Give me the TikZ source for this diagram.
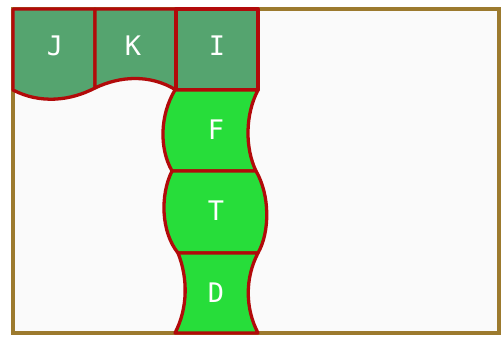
\documentclass[tikz,border=0pt]{standalone}
\usepackage{fontspec}
\setmainfont{DejaVu Sans}
\setmonofont{DejaVu Sans Mono}
\usepackage{xcolor}
\usetikzlibrary{positioning}
\definecolor{FrameBrown}{HTML}{9C7A2E}
\definecolor{PaperWhite}{HTML}{FAFAFA}
\definecolor{DarkCell}{HTML}{55A46F}
\definecolor{BrightCell}{HTML}{27DD3A}
\definecolor{CellRed}{HTML}{B20A0A}
\tikzset{
  frame/.style={draw=FrameBrown, line width=2.8pt, fill=PaperWhite},
  topcell/.style={draw=CellRed, line width=2.8pt, fill=DarkCell, line join=round},
  colcell/.style={draw=CellRed, line width=2.8pt, fill=BrightCell, line join=round},
  letter/.style={text=white, font=\ttfamily\fontsize{23}{26}\selectfont, inner sep=0pt},
}
\begin{document}
\begin{tikzpicture}[x=0.03cm, y=-0.03cm]
  \useasboundingbox (0,0) rectangle (502,340);

  % Outer frame
  \draw[frame] (13,9) rectangle (499,333);

  % Top row
  \draw[topcell] (13,9) -- (95,9) -- (95,88)
    .. controls (70,101) and (40,104) .. (13,90) -- cycle;
  \draw[topcell] (95,9) -- (176,9) -- (176,90)
    .. controls (150,74) and (120,76) .. (95,88) -- cycle;
  \draw[topcell] (176,9) rectangle (258,90);

  % Column below I
  \draw[colcell] (175,90) -- (258,90)
    .. controls (245,115) and (245,148) .. (256,171) -- (172,171)
    .. controls (159,148) and (160,115) .. (175,90) -- cycle;
  \draw[colcell] (172,171) -- (256,171)
    .. controls (270,195) and (270,232) .. (258,253) -- (178,253)
    .. controls (161,232) and (160,195) .. (172,171) -- cycle;
  \draw[colcell] (178,253) -- (258,253)
    .. controls (245,278) and (245,308) .. (258,333) -- (175,333)
    .. controls (188,308) and (188,278) .. (178,253) -- cycle;

  % Letters
  \node[letter] (j) at (55,46) {J};
  \node[letter] (k) at (133,46) {K};
  \node[letter] (i) at (217,46) {I};
  \node[letter] (f) at (216,130) {F};
  \node[letter] (t) at (216,211) {T};
  \node[letter] (d) at (216,293) {D};

\end{tikzpicture}
\end{document}
